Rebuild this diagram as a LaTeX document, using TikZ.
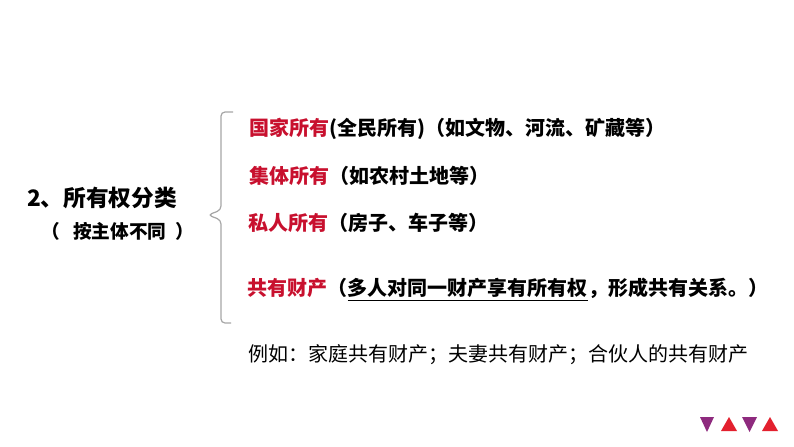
\documentclass[tikz,border=0pt]{standalone}
\usepackage{fontspec}
\setmainfont{Noto Sans CJK SC}
\newfontfamily\cjk{Noto Sans CJK SC}
\definecolor{itemred}{HTML}{C8102E}
\definecolor{bracegray}{HTML}{A6A6A6}
\definecolor{tripurple}{HTML}{8E2A7E}
\definecolor{trired}{HTML}{E3202E}
\begin{document}
\begin{tikzpicture}[x=0.75pt,y=-0.75pt,
  itemtxt/.style={anchor=west, inner sep=0pt, font=\cjk\bfseries\fontsize{15}{17}\selectfont},
  bracepath/.style={draw=bracegray, line width=0.9pt, rounded corners=3pt},
  tri/.style={draw=none}]
\useasboundingbox (0,0) rectangle (794,447);
\fill[white] (0,0) rectangle (794,447);
% title
\node[inner sep=0pt, font=\cjk\bfseries\fontsize{17}{19}\selectfont] (title) at (102,198) {2、所有权分类};
\node[anchor=west, inner sep=0pt, font=\cjk\bfseries\fontsize{14}{16}\selectfont] (sub) at (41,231) {（\hspace{10pt}按主体不同\hspace{7pt}）};
% brace
\coordinate (btop) at (233,112);
\coordinate (btip) at (208,215);
\coordinate (bbot) at (231,323);
\draw[bracepath] (btop) -- (221,112) -- (221,210) -- (btip) -- (221,220) -- (221,323) -- (bbot);
% items
\node[itemtxt] (i1) at (249,129) {\textcolor{itemred}{国家所有}(全民所有)（如文物、河流、矿藏等）};
\node[itemtxt] (i2) at (249,176) {\textcolor{itemred}{集体所有}（如农村土地等）};
\node[itemtxt] (i3) at (248,223) {\textcolor{itemred}{私人所有}（房子、车子等）};
\node[itemtxt] (i4a) at (247,288) {\textcolor{itemred}{共有财产}（};
\node[itemtxt, anchor=west] (i4b) at (i4a.east) {多人对同一财产享有所有权};
\node[itemtxt, anchor=west] (i4c) at (i4b.east) {，形成共有关系。）};
\draw[line width=1pt] ([yshift=-2pt]i4b.south west) -- ([yshift=-2pt]i4b.south east);
% example line
\node[anchor=west, inner sep=0pt, font=\cjk\fontsize{15}{17}\selectfont] (ex) at (248,355) {例如：家庭共有财产；夫妻共有财产；合伙人的共有财产};
% triangles
\fill[tripurple] (700,417) -- (714,417) -- (707,432) -- cycle;
\fill[trired] (721,431) -- (737,431) -- (729,417) -- cycle;
\fill[tripurple] (742,417) -- (757,417) -- (749.5,432) -- cycle;
\fill[trired] (762,431) -- (778,431) -- (770,417) -- cycle;
\end{tikzpicture}
\end{document}
